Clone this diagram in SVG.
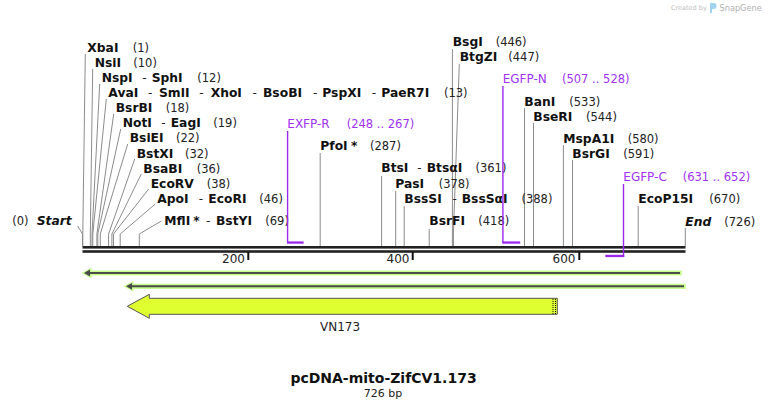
<svg xmlns="http://www.w3.org/2000/svg" width="768" height="409" viewBox="0 0 768 409">
<style>
.n{font-family:"DejaVu Sans",Verdana,sans-serif;font-weight:bold;font-size:12.3px;fill:#111}
.ni{font-family:"DejaVu Sans",Verdana,sans-serif;font-weight:bold;font-style:italic;font-size:12.3px;fill:#111}
.p{font-family:"DejaVu Sans",Verdana,sans-serif;font-size:11.5px;fill:#222}
.h{font-family:"DejaVu Sans",Verdana,sans-serif;font-size:12px;fill:#222}
.f{font-family:"DejaVu Sans",Verdana,sans-serif;font-size:12px;fill:#a033f2}
.fp{font-family:"DejaVu Sans",Verdana,sans-serif;font-size:11.5px;fill:#a033f2}
.c{fill:none;stroke:#8c8c8c;stroke-width:1}
.pl{stroke:#9a28ee;stroke-width:1.4;fill:none}
.pb{fill:#9a28ee}
.t{font-family:"DejaVu Sans",Verdana,sans-serif;font-size:12px;fill:#222}
</style>
<rect width="768" height="409" fill="#fff"/>

<g id="watermark">
<text x="671" y="10" font-family="DejaVu Sans,sans-serif" font-size="6.5" fill="#c0c0c0">Created by</text>
<path d="M710 3 h3.5 a3 3 0 0 1 0 6 h-1.5 v4 h-2 z" fill="#9fd3ef"/>
<text x="719.5" y="11" font-family="DejaVu Sans,sans-serif" font-size="8.2" fill="#b0b0b0">SnapGene</text>
</g>

<g id="connectors">
<polyline class="c" points="77.7,226 82.5,234 82.5,246"/>
<polyline class="c" points="85.3,54 82.8,234 82.8,246"/>
<polyline class="c" points="92.7,69 90.3,234 90.3,246"/>
<polyline class="c" points="99.7,84 92.0,234 92.0,246"/>
<polyline class="c" points="106.3,99 92.8,234 92.8,246"/>
<polyline class="c" points="113.7,114 96.9,234 96.9,246"/>
<polyline class="c" points="120.7,129 97.8,234 97.8,246"/>
<polyline class="c" points="127.7,144 100.3,234 100.3,246"/>
<polyline class="c" points="134.7,159 108.6,234 108.6,246"/>
<polyline class="c" points="141.3,174 111.9,234 111.9,246"/>
<polyline class="c" points="148.7,189 113.5,234 113.5,246"/>
<polyline class="c" points="155.3,204 120.2,234 120.2,246"/>
<polyline class="c" points="161.3,221 139.3,234 139.3,246"/>
<polyline class="c" points="320.2,153 320.2,246"/>
<polyline class="c" points="381.6,176 381.6,246"/>
<polyline class="c" points="395.7,191 395.7,246"/>
<polyline class="c" points="404.2,206 404.2,246"/>
<polyline class="c" points="429.2,229 429.2,246"/>
<polyline class="c" points="452.4,49 452.4,246"/>
<polyline class="c" points="459.3,64 453.4,234 453.4,246"/>
<polyline class="c" points="524.5,108 524.5,246"/>
<polyline class="c" points="533.5,123 533.5,246"/>
<polyline class="c" points="563.4,145 563.4,246"/>
<polyline class="c" points="572.5,160 572.5,246"/>
<polyline class="c" points="638.2,206 638.2,246"/>
<polyline class="c" points="685.3,228 685.3,246"/>
</g>

<g id="backbone">
<rect x="82.5" y="246" width="603" height="2.6" fill="#222"/>
<rect x="82.5" y="250.2" width="603" height="2.6" fill="#222"/>
<rect x="247.3" y="252" width="2" height="8" fill="#111"/>
<rect x="411.7" y="252" width="2" height="8" fill="#111"/>
<rect x="578.3" y="252" width="2" height="8" fill="#111"/>
<text class="t" x="245" y="263" text-anchor="end">200</text>
<text class="t" x="409.5" y="263" text-anchor="end">400</text>
<text class="t" x="575.5" y="263" text-anchor="end">600</text>
</g>

<g id="start"><text class="p" x="12.3" y="225">(0)</text><text class="ni" x="36.7" y="225">Start</text></g>
<g id="end"><text class="ni" x="685.3" y="225.7">End</text><text class="p" x="724.3" y="225.7">(726)</text></g>

<g id="XbaI"><text class="n" x="87.3" y="52.3">XbaI</text><text class="p" x="132.7" y="52.3">(1)</text></g>
<g id="NsiI"><text class="n" x="94.7" y="67.3">NsiI</text><text class="p" x="133.3" y="67.3">(10)</text></g>
<g id="NspI"><text class="n" x="101.7" y="82.3">NspI</text><text class="h" x="142.3" y="82.3">-</text><text class="n" x="151.7" y="82.3">SphI</text><text class="p" x="197.3" y="82.3">(12)</text></g>
<g id="AvaI"><text class="n" x="108.3" y="97.3">AvaI</text><text class="h" x="148" y="97.3">-</text><text class="n" x="159" y="97.3">SmlI</text><text class="h" x="199.3" y="97.3">-</text><text class="n" x="210.7" y="97.3">XhoI</text><text class="h" x="252.5" y="97.3">-</text><text class="n" x="263" y="97.3">BsoBI</text><text class="h" x="313" y="97.3">-</text><text class="n" x="322.3" y="97.3">PspXI</text><text class="h" x="371.7" y="97.3">-</text><text class="n" x="381.3" y="97.3">PaeR7I</text><text class="p" x="444" y="97.3">(13)</text></g>
<g id="BsrBI"><text class="n" x="115.7" y="112.3">BsrBI</text><text class="p" x="165.7" y="112.3">(18)</text></g>
<g id="NotI"><text class="n" x="122.7" y="127.3">NotI</text><text class="h" x="161.3" y="127.3">-</text><text class="n" x="170.7" y="127.3">EagI</text><text class="p" x="213.3" y="127.3">(19)</text></g>
<g id="BsiEI"><text class="n" x="129.7" y="142.3">BsiEI</text><text class="p" x="176" y="142.3">(22)</text></g>
<g id="BstXI"><text class="n" x="136.7" y="157.7">BstXI</text><text class="p" x="185" y="157.7">(32)</text></g>
<g id="BsaBI"><text class="n" x="143.3" y="172.7">BsaBI</text><text class="p" x="196.7" y="172.7">(36)</text></g>
<g id="EcoRV"><text class="n" x="150.7" y="187.7">EcoRV</text><text class="p" x="206.7" y="187.7">(38)</text></g>
<g id="ApoI"><text class="n" x="157.3" y="202.7">ApoI</text><text class="h" x="198.8" y="202.7">-</text><text class="n" x="208.3" y="202.7">EcoRI</text><text class="p" x="259.3" y="202.7">(46)</text></g>
<g id="MflI"><text class="n" x="164.3" y="225">MflI</text><text class="n" x="193.3" y="225">*</text><text class="h" x="206" y="225">-</text><text class="n" x="216" y="225">BstYI</text><text class="p" x="265.3" y="225">(69)</text></g>

<g id="EXFP-R">
<text class="f" x="287.3" y="128">EXFP-R</text><text class="fp" x="346.7" y="128">(248 .. 267)</text>
<line class="pl" x1="287.6" y1="131" x2="287.6" y2="243"/>
<rect class="pb" x="287" y="241.4" width="16.6" height="2.3"/>
</g>
<g id="PfoI"><text class="n" x="320.3" y="150">PfoI</text><text class="n" x="351" y="150">*</text><text class="p" x="370" y="150">(287)</text></g>
<g id="BtsI"><text class="n" x="381.3" y="172.3">BtsI</text><text class="h" x="417.3" y="172.3">-</text><text class="n" x="426.7" y="172.3">BtsαI</text><text class="p" x="475.5" y="172.3">(361)</text></g>
<g id="PasI"><text class="n" x="395.3" y="187.5">PasI</text><text class="p" x="438.7" y="187.5">(378)</text></g>
<g id="BssSI"><text class="n" x="404.3" y="202.7">BssSI</text><text class="h" x="452.5" y="202.7">-</text><text class="n" x="461.7" y="202.7">BssSαI</text><text class="p" x="521.5" y="202.7">(388)</text></g>
<g id="BsrFI"><text class="n" x="429.3" y="225.3">BsrFI</text><text class="p" x="478.3" y="225.3">(418)</text></g>
<g id="BsgI"><text class="n" x="452.7" y="45.5">BsgI</text><text class="p" x="495.7" y="45.5">(446)</text></g>
<g id="BtgZI"><text class="n" x="459.7" y="60.5">BtgZI</text><text class="p" x="508.3" y="60.5">(447)</text></g>
<g id="EGFP-N">
<text class="f" x="502.7" y="82.7">EGFP-N</text><text class="fp" x="562" y="82.7">(507 .. 528)</text>
<line class="pl" x1="502.9" y1="86" x2="502.9" y2="243"/>
<rect class="pb" x="502.3" y="241.4" width="17.9" height="2.3"/>
</g>
<g id="BanI"><text class="n" x="524.3" y="105.7">BanI</text><text class="p" x="569.3" y="105.7">(533)</text></g>
<g id="BseRI"><text class="n" x="533.3" y="120.7">BseRI</text><text class="p" x="586" y="120.7">(544)</text></g>
<g id="MspA1I"><text class="n" x="563.3" y="142.7">MspA1I</text><text class="p" x="627.7" y="142.7">(580)</text></g>
<g id="BsrGI"><text class="n" x="572.3" y="157.7">BsrGI</text><text class="p" x="623.3" y="157.7">(591)</text></g>
<g id="EGFP-C">
<text class="f" x="623.3" y="180.7">EGFP-C</text><text class="fp" x="682.7" y="180.7">(631 .. 652)</text>
<line class="pl" x1="623.5" y1="184" x2="623.5" y2="257"/>
<rect class="pb" x="605.3" y="254.8" width="18.9" height="2.3"/>
</g>
<g id="EcoP15I"><text class="n" x="638.3" y="202.7">EcoP15I</text><text class="p" x="709.3" y="202.7">(670)</text></g>

<g id="orf1">
<path d="M81.5,273 L91.5,267.6 L91.5,270.5 L681.8,270.5 L681.8,275.6 L91.5,275.6 L91.5,278.4 Z" fill="#c6fc8e"/>
<line x1="88" y1="273" x2="680" y2="273" stroke="#4a4a4a" stroke-width="2"/>
<path d="M84,273 L90,269.6 L90,276.4 Z" fill="#4a4a4a"/>
</g>
<g id="orf2">
<path d="M123.5,286.3 L133.5,280.9 L133.5,283.8 L685.8,283.8 L685.8,288.9 L133.5,288.9 L133.5,291.7 Z" fill="#c6fc8e"/>
<line x1="130" y1="286.3" x2="684" y2="286.3" stroke="#4a4a4a" stroke-width="2"/>
<path d="M126,286.3 L132,282.9 L132,289.7 Z" fill="#4a4a4a"/>
</g>
<g id="VN173">
<path d="M127.3,306.3 L149.3,294.3 L149.3,298.3 L557.3,298.3 L557.3,314.3 L149.3,314.3 L149.3,318.3 Z" fill="#e0ff30" stroke="#555" stroke-width="1"/>
<line x1="553" y1="299" x2="553" y2="314" stroke="#111" stroke-width="1" stroke-dasharray="1,1"/>
<line x1="555.5" y1="299" x2="555.5" y2="314" stroke="#111" stroke-width="1" stroke-dasharray="1,1"/>
<text class="t" x="340" y="331" text-anchor="middle">VN173</text>
</g>

<g id="title">
<text x="383.5" y="383" text-anchor="middle" font-family="DejaVu Sans,Verdana,sans-serif" font-weight="bold" font-size="14" fill="#111">pcDNA-mito-ZifCV1.173</text>
<text x="383" y="397" text-anchor="middle" font-family="DejaVu Sans,Verdana,sans-serif" font-size="11" fill="#222">726 bp</text>
</g>
</svg>
